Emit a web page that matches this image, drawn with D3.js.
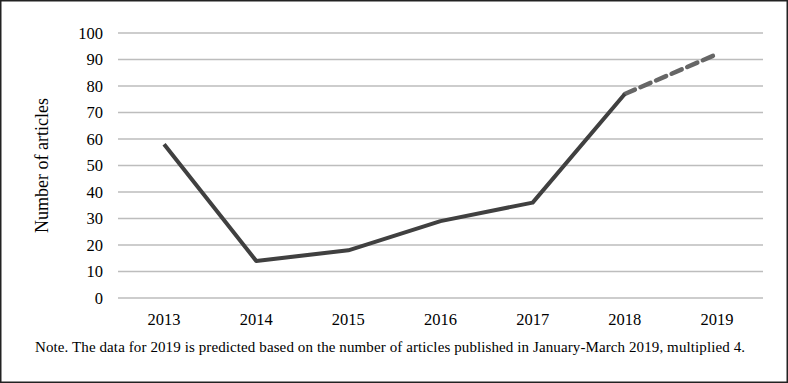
<!DOCTYPE html>
<html lang="en">
<head>
    <meta charset="UTF-8">
    <title>Number of articles</title>
    <script src="https://d3js.org/d3.v7.min.js"></script>
    <style>
        html, body { margin: 0; padding: 0; background: #fff; }
        svg text { font-family: "Liberation Serif", "Times New Roman", serif; fill: #000; }
    </style>
</head>
<body>
<svg id="chart"></svg>
<script>
    const years = ["2013", "2014", "2015", "2016", "2017", "2018", "2019"];
    const articles = [58, 14, 18, 29, 36, 77, 92];
    const predictedFrom = "2018";
    const yTicks = [0, 10, 20, 30, 40, 50, 60, 70, 80, 90, 100];
    const note = "Note. The data for 2019 is predicted based on the number of articles published in January-March 2019, multiplied 4.";

    const width = 788, height = 383;
    const margins = { top: 33, right: 25, bottom: 85, left: 118 };
    const innerW = width - margins.left - margins.right;
    const innerH = height - margins.top - margins.bottom;

    const svg = d3.select("#chart").attr("width", width).attr("height", height);

    svg.append("rect")
        .attr("x", 0.75).attr("y", 0.75)
        .attr("width", width - 1.5).attr("height", height - 1.5)
        .attr("fill", "#fff").attr("stroke", "#222").attr("stroke-width", 1.5);

    const g = svg.append("g").attr("transform", "translate(" + margins.left + "," + margins.top + ")");

    const xScale = d3.scaleBand().domain(years).range([0, innerW]);
    const yScale = d3.scaleLinear().domain([0, 100]).range([innerH, 0]);

    // gridlines
    g.append("g")
        .selectAll("line")
        .data(yTicks)
        .join("line")
        .attr("x1", 0).attr("x2", innerW)
        .attr("y1", d => yScale(d)).attr("y2", d => yScale(d))
        .attr("stroke", "#bdbdbd").attr("stroke-width", 1.5);

    const yAxis = g.append("g")
        .call(d3.axisLeft(yScale).tickValues(yTicks).tickSize(0).tickPadding(15));
    yAxis.select(".domain").remove();
    yAxis.selectAll("text").style("font-size", "16.5px");

    const xAxis = g.append("g")
        .attr("transform", "translate(0," + innerH + ")")
        .call(d3.axisBottom(xScale).tickSize(0).tickPadding(15));
    xAxis.select(".domain").remove();
    xAxis.selectAll("text").style("font-size", "16.5px");

    const pts = years.map((y, i) => ({ year: y, value: articles[i] }));
    const cut = years.indexOf(predictedFrom);

    const line = d3.line()
        .x(d => xScale(d.year) + xScale.bandwidth() / 2)
        .y(d => yScale(d.value));

    g.append("path")
        .datum(pts.slice(cut))
        .attr("fill", "none")
        .attr("stroke", "#666")
        .attr("stroke-width", 4.5)
        .attr("stroke-dasharray", "11,6")
        .attr("stroke-linecap", "round")
        .attr("d", line);

    g.append("path")
        .datum(pts.slice(0, cut + 1))
        .attr("fill", "none")
        .attr("stroke", "#404040")
        .attr("stroke-width", 4)
        .attr("stroke-linejoin", "round")
        .attr("d", line);

    svg.append("text")
        .attr("transform", "translate(48," + (margins.top + innerH / 2) + ") rotate(-90)")
        .attr("text-anchor", "middle")
        .style("font-size", "18px")
        .text("Number of articles");

    svg.append("text")
        .attr("x", 35).attr("y", 352)
        .attr("textLength", 710)
        .style("font-size", "15px")
        .text(note);
</script>
</body>
</html>
